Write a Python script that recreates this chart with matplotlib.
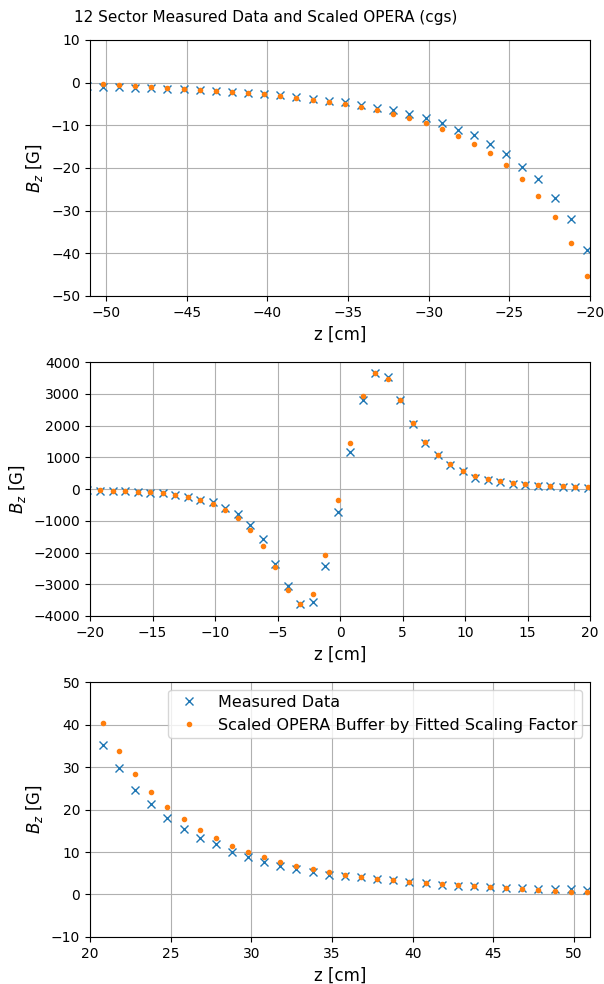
import numpy as np
import matplotlib
matplotlib.use('Agg')
import matplotlib.pyplot as plt

# 第一段 z < -20
z1 = [-51.2, -50.2, -49.2, -48.2, -47.2, -46.2, -45.2, -44.2, -43.2, -42.2, -41.2,
      -40.2, -39.2, -38.2, -37.2, -36.2, -35.2, -34.2, -33.2, -32.2, -31.2,
      -30.2, -29.2, -28.2, -27.2, -26.2, -25.2, -24.2, -23.2, -22.2, -21.2, -20.2]
meas1 = [-0.85, -0.94, -1.0, -1.25, -1.25, -1.4, -1.6, -1.8, -1.9, -2.2, -2.4,
         -2.7, -3.0, -3.4, -3.8, -4.2, -4.6, -5.2, -5.9, -6.5, -7.4,
         -8.2, -9.5, -11.0, -12.3, -14.3, -16.8, -19.7, -22.7, -27.1, -31.9, -39.2]
opera1 = [-0.3, -0.4, -0.6, -0.86, -1.1, -1.25, -1.5, -1.7, -1.95, -2.2, -2.4,
          -2.7, -3.1, -3.5, -4.0, -4.45, -5.0, -5.7, -6.4, -7.3, -8.3,
          -9.5, -10.9, -12.5, -14.4, -16.6, -19.4, -22.7, -26.6, -31.6, -37.5, -45.2]

# 第二段 -20 ~ 20
z2 = [-20.2, -19.2, -18.2, -17.2, -16.2, -15.2, -14.2, -13.2, -12.2, -11.2, -10.2,
      -9.2, -8.2, -7.2, -6.2, -5.2, -4.2, -3.2, -2.2, -1.2, -0.2,
      0.8, 1.8, 2.8, 3.8, 4.8, 5.8, 6.8, 7.8, 8.8, 9.8,
      10.8, 11.8, 12.8, 13.8, 14.8, 15.8, 16.8, 17.8, 18.8, 19.8]
meas2 = [-39, -52, -52, -74, -95, -115, -137, -190, -252, -336, -410,
         -600, -788, -1145, -1575, -2350, -3055, -3633, -3570, -2436, -735,
         1155, 2793, 3665, 3528, 2793, 2058, 1460, 1071, 767, 557,
         336, 273, 220, 158, 126, 105, 84, 63, 52, 42]
opera2 = [-45, -42, -52, -74, -84, -105, -137, -178, -252, -347, -472,
          -651, -924, -1292, -1806, -2468, -3182, -3633, -3308, -2079, -357,
          1439, 2919, 3644, 3465, 2793, 2069, 1481, 1082, 777, 567,
          420, 315, 241, 178, 147, 115, 94, 84, 73, 52]

# 第三段 z > 20
z3 = [20.8, 21.8, 22.8, 23.8, 24.8, 25.8, 26.8, 27.8, 28.8, 29.8, 30.8,
      31.8, 32.8, 33.8, 34.8, 35.8, 36.8, 37.8, 38.8, 39.8, 40.8,
      41.8, 42.8, 43.8, 44.8, 45.8, 46.8, 47.8, 48.8, 49.8, 50.8]
meas3 = [35.3, 29.8, 24.5, 21.2, 18.1, 15.5, 13.4, 11.8, 10.1, 8.9, 7.7,
         6.8, 5.9, 5.2, 4.7, 4.4, 4.0, 3.6, 3.3, 2.9, 2.6,
         2.3, 2.1, 1.95, 1.8, 1.6, 1.5, 1.3, 1.25, 1.2, 1.1]
opera3 = [40.4, 33.8, 28.4, 24.1, 20.5, 17.7, 15.2, 13.2, 11.5, 10.0, 8.75,
          7.7, 6.8, 6.0, 5.3, 4.7, 4.1, 3.7, 3.3, 3.0, 2.7,
          2.4, 2.2, 1.95, 1.7, 1.5, 1.3, 1.1, 0.9, 0.7, 0.55]

panels = [
    (z1, meas1, opera1, (-51, -20), (-50, 10), [0.149, 0.6992, 0.828, 0.2602]),
    (z2, meas2, opera2, (-20, 20), (-4000, 4000), [0.149, 0.374, 0.828, 0.258]),
    (z3, meas3, opera3, (20, 51), (-10, 50), [0.149, 0.0478, 0.828, 0.259]),
]

fig = plt.figure(figsize=(6.04, 9.84), dpi=100)
fig.text(0.44, 0.9827, '12 Sector Measured Data and Scaled OPERA (cgs)',
         ha='center', va='center', fontsize=11)

for i, (z, m, o, xl, yl, pos) in enumerate(panels):
    ax = fig.add_axes(pos)
    ax.plot(z, m, 'x', color='tab:blue', label='Measured Data')
    ax.plot(z, o, '.', color='tab:orange', label='Scaled OPERA Buffer by Fitted Scaling Factor')
    ax.set_xlim(*xl)
    ax.set_ylim(*yl)
    ax.grid(True)
    ax.set_xlabel('z [cm]', fontsize=12)
    ax.set_ylabel('$B_z$ [G]', fontsize=12)
    if i == 2:
        ax.legend(loc='upper right', fontsize=11.5, borderpad=0.3,
                  labelspacing=0.5)

fig.savefig('out.png', dpi=100)
